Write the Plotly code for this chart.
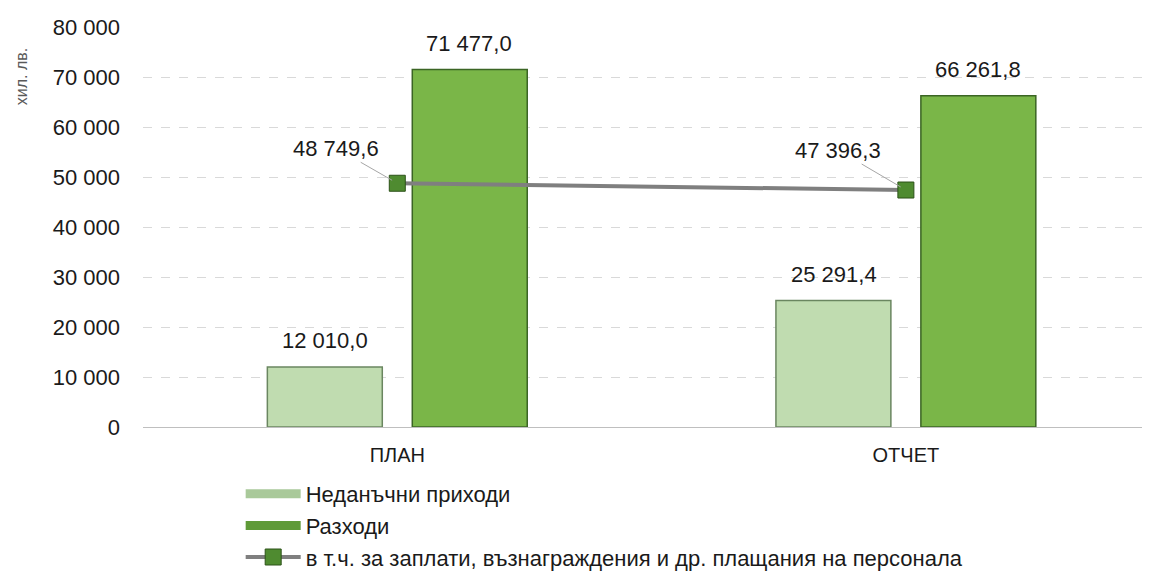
import plotly.graph_objects as go

# ── data ──────────────────────────────────────────────────────────────────────
categories = ["ПЛАН", "ОТЧЕТ"]
non_tax_revenue = [12010.0, 25291.4]
expenses = [71477.0, 66261.8]
salaries = [48749.6, 47396.3]

series_names = [
    "Неданъчни приходи",
    "Разходи",
    "в т.ч. за заплати, възнаграждения и др. плащания на персонала",
]

FONT = "Liberation Sans, Arial, sans-serif"
LIGHT, LIGHT_EDGE = "#c0dcb0", "#6a8660"
DARK, DARK_EDGE = "#7ab648", "#3b6524"


def bg_num(v):
    return f"{v:,.1f}".replace(",", " ").replace(".", ",")


fig = go.Figure()

fig.add_trace(go.Bar(
    name=series_names[0], x=categories, y=non_tax_revenue, showlegend=False,
    marker=dict(color=LIGHT, line=dict(color=LIGHT_EDGE, width=1.5)),
))
fig.add_trace(go.Bar(
    name=series_names[1], x=categories, y=expenses, showlegend=False,
    marker=dict(color=DARK, line=dict(color=DARK_EDGE, width=1.5)),
))

# legend entries drawn as wide flat bars, like the original legend keys
for name, col in ((series_names[0], "#a9c99a"), (series_names[1], "#5f9a38")):
    fig.add_trace(go.Scatter(
        name=name, x=[None], y=[None], mode="lines",
        line=dict(color=col, width=9),
    ))

fig.add_trace(go.Scatter(
    name=series_names[2], x=categories, y=salaries,
    mode="lines+markers",
    line=dict(color="#7f7f7f", width=4),
    marker=dict(symbol="square", size=16, color="#4f8b30",
                line=dict(color="#2c5218", width=1)),
))

# value labels above the bars (left / right bar of each group)
for vals, shift in ((non_tax_revenue, -72), (expenses, 72)):
    for cat, val in zip(categories, vals):
        fig.add_annotation(
            x=cat, y=val, text=bg_num(val), showarrow=False,
            xshift=shift, yshift=26, yanchor="middle",
            font=dict(size=22, color="#1a1a1a", family=FONT),
        )

# callout labels for the line points
offsets = [(-61, -35), (-68, -40)]
for cat, val, (ax, ay) in zip(categories, salaries, offsets):
    fig.add_annotation(
        x=cat, y=val, text=bg_num(val), showarrow=True,
        arrowhead=0, arrowwidth=1, arrowcolor="#a6a6a6",
        ax=ax, ay=ay, standoff=6,
        font=dict(size=22, color="#1a1a1a", family=FONT),
    )

# y-axis unit label
fig.add_annotation(
    text="хил. лв.", xref="paper", yref="paper",
    x=-0.121, y=0.875, xanchor="center", yanchor="middle",
    textangle=-90, showarrow=False,
    font=dict(size=16, color="#595959", family=FONT),
)

# page body adds an 8px offset, so the figure is sized to fit the window
fig.update_layout(
    width=1142, height=564,
    margin=dict(l=135, r=0, t=19, b=145, autoexpand=False),
    plot_bgcolor="white", paper_bgcolor="white",
    font=dict(family=FONT, size=22, color="#1a1a1a"),
    separators=", ",
    barmode="group", bargap=0.43, bargroupgap=0.207,
    showlegend=True,
    legend=dict(
        x=0.097, y=-0.115, xanchor="left", yanchor="top",
        orientation="v", tracegroupgap=0, itemwidth=55,
        font=dict(size=22, color="#1a1a1a"),
        bgcolor="rgba(0,0,0,0)",
    ),
    xaxis=dict(
        range=[-0.5, 1.48],
        showgrid=False, showline=False, ticks="",
        ticklabelstandoff=14,
        tickfont=dict(size=20, color="#1a1a1a"),
    ),
    yaxis=dict(
        range=[0, 80000], dtick=10000, tickformat=",d",
        showgrid=True, gridcolor="#d9d9d9", griddash="dash", gridwidth=1,
        zeroline=True, zerolinecolor="#bfbfbf", zerolinewidth=1,
        showline=False, ticks="", ticklabelstandoff=22,
        tickfont=dict(size=22, color="#1a1a1a"),
    ),
)

fig.write_html("out.html")
